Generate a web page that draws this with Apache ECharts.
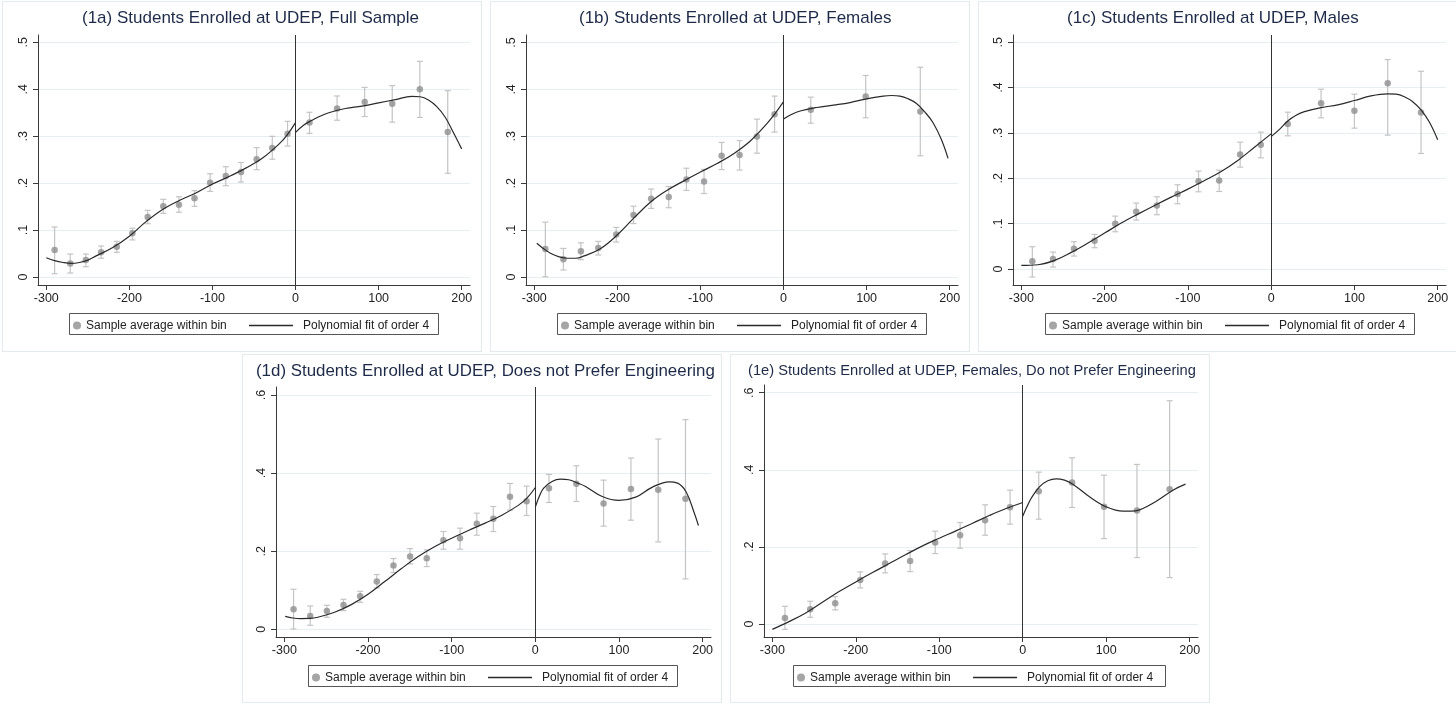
<!DOCTYPE html>
<html>
<head>
<meta charset="utf-8" />
<title>Students Enrolled at UDEP</title>
<script src="https://cdn.jsdelivr.net/npm/echarts@6/dist/echarts.min.js"></script>
<style>
    body { margin: 0; background: #fff; width: 1456px; height: 704px; position: relative; overflow: hidden; }
    .panel { position: absolute; width: 478px; height: 349px; border: 1px solid #e3ebee; background: #fff; }
</style>
</head>
<body>
<div id="p1a" class="panel" style="left:2px;top:1px;"></div>
<div id="p1b" class="panel" style="left:490px;top:1px;"></div>
<div id="p1c" class="panel" style="left:978px;top:1px;"></div>
<div id="p1d" class="panel" style="left:242px;top:354px;height:347px;"></div>
<div id="p1e" class="panel" style="left:730px;top:354px;height:347px;"></div>
<script type="text/javascript">
    // tick labels
    var xTicks = [-300, -200, -100, 0, 100, 200];
    var yTicks5 = [0, 0.1, 0.2, 0.3, 0.4, 0.5];
    var yTicks6 = [0, 0.2, 0.4, 0.6];

    // (1a) full sample
    var a_binX = [-290, -271.2, -252.4, -234, -215.2, -196.4, -178, -159.2, -140.4, -121.6, -102.8, -84, -65.6, -46.8, -28, -9.6, 16.8, 50, 83.2, 116.4, 149.6, 183.2];
    var a_binY = [.0575, .029, .036, .053, .0646, .093, .128, .1506, .154, .168, .201, .215, .224, .251, .275, .305, .329, .359, .373, .369, .400, .309];
    var a_binHi = [.1065, .049, .049, .066, .076, .104, .142, .1655, .171, .184, .220, .235, .244, .2756, .2997, .3317, .351, .3857, .404, .4077, .4595, .397];
    var a_binLo = [.0071, .0085, .022, .040, .0526, .079, .1136, .1357, .138, .1506, .1825, .1946, .2024, .2287, .251, .279, .306, .334, .342, .330, .340, .221];
    var a_fitL = [[-300, .041], [-290, .035], [-280, .031], [-270, .029], [-260, .031], [-250, .036], [-240, .045], [-220, .063], [-200, .087], [-180, .118], [-160, .144], [-140, .163], [-120, .179], [-100, .198], [-80, .214], [-60, .232], [-40, .253], [-20, .283], [-10, .303], [0, .329]];
    var a_fitR = [[0, .308], [10, .324], [20, .334], [30, .343], [40, .350], [60, .359], [80, .364], [100, .371], [120, .378], [140, .385], [150, .384], [160, .377], [170, .363], [180, .341], [190, .308], [200, .273]];

    // (1b) females
    var b_binX = [-286.7, -265, -243.9, -223, -201.4, -180.6, -159.4, -138.2, -116.9, -95.7, -74.5, -52.9, -32, -10.8, 32.8, 98.9, 164.6];
    var b_binY = [.0597, .038, .0547, .0618, .0909, .132, .1669, .1705, .208, .2038, .2585, .26, .2997, .347, .3565, .385, .353];
    var b_binHi = [.117, .061, .073, .076, .1058, .151, .1875, .193, .232, .2294, .287, .291, .3366, .3857, .3835, .4297, .4474];
    var b_binLo = [.0007, .015, .037, .047, .0746, .114, .1463, .1477, .1847, .178, .229, .228, .264, .309, .328, .3395, .2585];
    var b_fitL = [[-297, .072], [-290, .062], [-280, .050], [-270, .043], [-260, .040], [-250, .040], [-240, .045], [-220, .061], [-200, .090], [-180, .126], [-160, .160], [-140, .185], [-120, .205], [-100, .224], [-80, .242], [-60, .263], [-40, .290], [-20, .327], [-10, .349], [0, .374]];
    var b_fitR = [[0, .337], [10, .347], [20, .354], [40, .3615], [60, .3665], [80, .372], [100, .380], [120, .3857], [130, .387], [140, .3857], [150, .380], [160, .370], [170, .352], [180, .329], [190, .293], [198, .253]];

    // (1c) males
    var c_binX = [-286.8, -262, -236.8, -212, -187.2, -162, -137.2, -112.4, -87.2, -62.4, -37.2, -12.4, 20, 60, 100, 140, 180];
    var c_binY = [.0169, .022, .0448, .0624, .0999, .1263, .1402, .1652, .1938, .1953, .2526, .2739, .320, .3656, .3488, .4097, .3451];
    var c_binHi = [.0492, .0374, .0602, .0764, .1167, .1454, .1593, .1858, .2159, .218, .2797, .3018, .3458, .3965, .3855, .4618, .4361];
    var c_binLo = [-.0176, .0044, .0286, .047, .0822, .108, .1197, .1439, .1703, .171, .2247, .2452, .2937, .3333, .3106, .2952, .2548];
    var c_fitL = [[-300, .008], [-280, .0095], [-260, .019], [-240, .0367], [-220, .0573], [-200, .0793], [-180, .1013], [-160, .1211], [-140, .1402], [-120, .1586], [-100, .1762], [-80, .1953], [-60, .2151], [-40, .2394], [-20, .2687], [0, .298]];
    var c_fitR = [[0, .292], [10, .308], [20, .3265], [30, .339], [40, .347], [60, .356], [80, .362], [100, .3715], [120, .3818], [140, .3862], [150, .3855], [160, .380], [170, .369], [180, .351], [190, .324], [200, .285]];

    // (1d) does not prefer engineering
    var d_binX = [-289, -269.1, -249.2, -229.3, -209.4, -189.5, -169.6, -149.7, -129.8, -109.9, -90, -70, -50.2, -30.3, -10.4, 16.3, 49, 81.6, 114.3, 146.9, 179.5];
    var d_binY = [.0513, .0342, .047, .0624, .0846, .1222, .1632, .1863, .182, .2282, .2333, .270, .2829, .3393, .3282, .3615, .3726, .3222, .359, .3573, .3342];
    var d_binHi = [.1026, .0598, .0615, .0769, .0974, .1402, .1812, .2068, .2034, .2504, .259, .2974, .3145, .3735, .3667, .3966, .4188, .382, .4385, .4872, .5368];
    var d_binLo = [.0009, .0103, .0308, .0479, .0692, .106, .1453, .1675, .1607, .2051, .2051, .241, .2504, .3051, .2915, .3248, .3274, .2641, .2795, .2239, .1291];
    var d_fitL = [[-299, .0333], [-290, .029], [-280, .0274], [-270, .0278], [-260, .0308], [-240, .0436], [-220, .0632], [-200, .0897], [-180, .1222], [-160, .1556], [-140, .1863], [-120, .212], [-100, .2333], [-80, .253], [-60, .2718], [-40, .2923], [-20, .318], [-10, .336], [0, .3632]];
    var d_fitR = [[0, .3128], [5, .342], [10, .3615], [20, .3786], [30, .3846], [40, .3829], [50, .375], [60, .3658], [80, .340], [100, .330], [120, .3385], [140, .3641], [160, .3778], [170, .3744], [180, .353], [190, .298], [195, .2658]];

    // (1e) females, do not prefer engineering
    var e_binX = [-284.9, -254.6, -224.7, -194.7, -164.8, -134.9, -104.9, -75, -45.1, -15.2, 19.2, 59.1, 97.4, 136.9, 176];
    var e_binY = [.0156, .0381, .0537, .1143, .1567, .1636, .2113, .2303, .2693, .303, .3446, .3671, .3039, .2944, .3498];
    var e_binHi = [.0459, .0589, .071, .1351, .1818, .1905, .2407, .2632, .3091, .3472, .3939, .4312, .3861, .4139, .5792];
    var e_binLo = [-.0139, .0173, .0364, .0935, .1325, .1359, .1827, .1965, .2303, .2589, .2719, .3022, .2216, .1723, .1203];
    var e_fitL = [[-300, -.0139], [-280, .0061], [-260, .0286], [-240, .0563], [-220, .084], [-200, .1091], [-180, .1333], [-160, .1567], [-140, .1801], [-120, .2026], [-100, .2225], [-80, .2416], [-60, .2615], [-40, .2814], [-20, .2996], [0, .3152]];
    var e_fitR = [[0, .2797], [5, .3039], [10, .3255], [20, .3558], [30, .3714], [40, .3766], [50, .3732], [60, .3628], [80, .3299], [100, .3039], [120, .2926], [130, .2926], [140, .2961], [160, .3186], [180, .3472], [195, .3628]];

    var FONT = "'Liberation Sans', Arial, sans-serif";
    // thin line legend icon; the empty move at x=49 leaves room before the text
    var LINE_ICON = 'path://M0,0L44,0L44,1.4L0,1.4Z M49,0.7L49,0.7';

    function yLabel(v) {
        if (v === 0) return '0';
        return String(v).replace(/^0/, '');
    }

    function errorBar(params, api) {
        var x = api.value(0);
        var lo = api.coord([x, api.value(1)]);
        var hi = api.coord([x, api.value(2)]);
        var w = 3;
        var st = { stroke: '#c4c4c4', lineWidth: 1.2 };
        return {
            type: 'group',
            children: [
                { type: 'line', shape: { x1: lo[0], y1: lo[1], x2: hi[0], y2: hi[1] }, style: st },
                { type: 'line', shape: { x1: lo[0] - w, y1: lo[1], x2: lo[0] + w, y2: lo[1] }, style: st },
                { type: 'line', shape: { x1: hi[0] - w, y1: hi[1], x2: hi[0] + w, y2: hi[1] }, style: st }
            ]
        };
    }

    function makePanel(id, p) {
        var chart = echarts.init(document.getElementById(id));
        var bars = p.binX.map(function (x, i) { return [x, p.binLo[i], p.binHi[i]]; });
        var pts = p.binX.map(function (x, i) { return [x, p.binY[i]]; });
        var lb = p.legendBox;
        var mid = lb[1] + lb[3] / 2;
        var lineStyle = { color: '#2a2a2a', width: 1.2 };
        var option = {
            animation: false,
            title: {
                text: p.title, left: p.titleLeft, top: p.titleTop, padding: 0,
                textStyle: { fontFamily: FONT, fontSize: p.titleSize, fontWeight: 'normal', color: '#1e2b48' }
            },
            grid: { left: p.grid[0], top: p.grid[1], width: p.grid[2], height: p.grid[3] },
            xAxis: {
                type: 'value', min: -310, max: 210,
                axisLine: { onZero: false, lineStyle: { color: '#3a3a3a', width: 1 } },
                axisTick: { customValues: xTicks, length: 5, lineStyle: { color: '#3a3a3a' } },
                axisLabel: { customValues: xTicks, margin: 7, color: '#222', fontFamily: FONT, fontSize: 12.5 },
                splitLine: { show: false }
            },
            yAxis: {
                type: 'value', min: p.yMin, max: p.yMax,
                axisLine: { show: true, onZero: false, lineStyle: { color: '#3a3a3a', width: 1 } },
                axisTick: { show: true, customValues: p.yTicks, length: 5, lineStyle: { color: '#3a3a3a' } },
                axisLabel: { customValues: p.yTicks, rotate: 90, margin: 8, color: '#222', fontFamily: FONT, fontSize: 12.5, formatter: yLabel },
                splitLine: { show: true, lineStyle: { color: '#e5eef0', width: 1 } }
            },
            legend: [{
                data: ['Sample average within bin'], left: lb[0] + 4, top: mid - 4, padding: 0,
                itemWidth: 8, itemHeight: 8, icon: 'circle',
                textStyle: { fontFamily: FONT, fontSize: 12, color: '#222' }
            }, {
                data: ['Polynomial fit of order 4'], left: lb[0] + 180, top: mid - 4, padding: 0,
                itemWidth: 49, itemHeight: 8, icon: LINE_ICON, itemStyle: { color: '#2a2a2a' },
                textStyle: { fontFamily: FONT, fontSize: 12, color: '#222' }
            }],
            graphic: [{
                type: 'rect', z: -1,
                shape: { x: lb[0] + 0.5, y: lb[1] + 0.5, width: lb[2], height: lb[3] },
                style: { fill: '#fff', stroke: '#555', lineWidth: 1 }
            }],
            series: [{
                type: 'custom', name: 'ci', renderItem: errorBar, data: bars,
                encode: { x: 0, y: [1, 2] }, z: 2, silent: true
            }, {
                type: 'scatter', name: 'Sample average within bin', data: pts,
                symbol: 'circle', symbolSize: 6.5, itemStyle: { color: '#8e8e8e' }, z: 3,
                markLine: {
                    silent: true, symbol: ['none', 'none'], label: { show: false },
                    lineStyle: { color: '#333', width: 1, type: 'solid' },
                    data: [{ xAxis: 0 }]
                }
            }, {
                type: 'line', name: 'Polynomial fit of order 4', data: p.fitL, smooth: 0.4,
                symbol: 'none', showSymbol: false, color: '#2a2a2a', lineStyle: lineStyle, z: 4
            }, {
                type: 'line', name: 'Polynomial fit of order 4', data: p.fitR, smooth: 0.4,
                symbol: 'none', showSymbol: false, color: '#2a2a2a', lineStyle: lineStyle, z: 4
            }]
        };
        chart.setOption(option, true);
        return chart;
    }

    makePanel('p1a', {
        title: '(1a) Students Enrolled at UDEP, Full Sample', titleLeft: 79, titleTop: 8, titleSize: 17,
        grid: [35, 33, 432, 250], yMin: -0.017, yMax: 0.5156, yTicks: yTicks5, legendBox: [66, 311, 369, 21],
        binX: a_binX, binY: a_binY, binHi: a_binHi, binLo: a_binLo, fitL: a_fitL, fitR: a_fitR
    });
    makePanel('p1b', {
        title: '(1b) Students Enrolled at UDEP, Females', titleLeft: 88, titleTop: 8, titleSize: 17,
        grid: [35, 33, 432, 250], yMin: -0.017, yMax: 0.516, yTicks: yTicks5, legendBox: [66, 311, 369, 21],
        binX: b_binX, binY: b_binY, binHi: b_binHi, binLo: b_binLo, fitL: b_fitL, fitR: b_fitR
    });
    makePanel('p1c', {
        title: '(1c) Students Enrolled at UDEP, Males', titleLeft: 88, titleTop: 8, titleSize: 17,
        grid: [34, 33, 433, 250], yMin: -0.0352, yMax: 0.516, yTicks: yTicks5, legendBox: [66, 311, 369, 21],
        binX: c_binX, binY: c_binY, binHi: c_binHi, binLo: c_binLo, fitL: c_fitL, fitR: c_fitR
    });
    makePanel('p1d', {
        title: '(1d) Students Enrolled at UDEP, Does not Prefer Engineering', titleLeft: 13, titleTop: 8, titleSize: 16.9,
        grid: [33, 32, 435, 250], yMin: -0.0197, yMax: 0.6205, yTicks: yTicks6, legendBox: [65, 310, 369, 21],
        binX: d_binX, binY: d_binY, binHi: d_binHi, binLo: d_binLo, fitL: d_fitL, fitR: d_fitR
    });
    makePanel('p1e', {
        title: '(1e) Students Enrolled at UDEP, Females, Do not Prefer Engineering', titleLeft: 17, titleTop: 8, titleSize: 14.7,
        grid: [33, 30, 434, 252], yMin: -0.0338, yMax: 0.62, yTicks: yTicks6, legendBox: [62, 310, 372, 21],
        binX: e_binX, binY: e_binY, binHi: e_binHi, binLo: e_binLo, fitL: e_fitL, fitR: e_fitR
    });
</script>
</body>
</html>
